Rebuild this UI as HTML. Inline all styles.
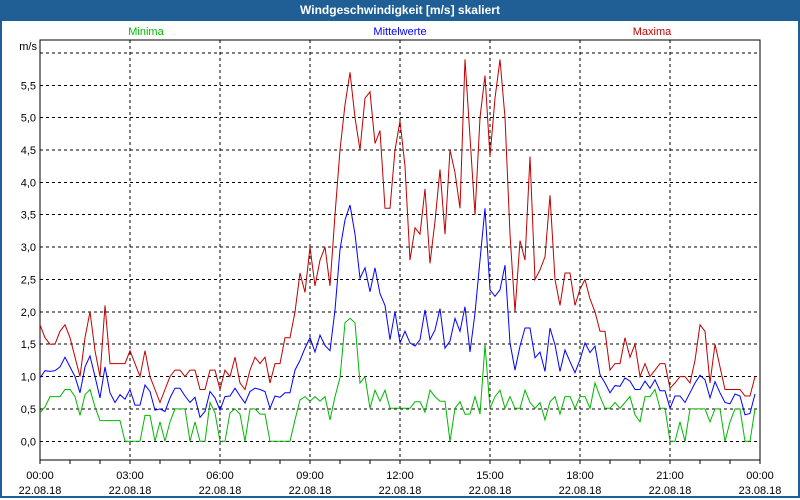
<!DOCTYPE html>
<html><head><meta charset="utf-8"><style>
body{margin:0;width:800px;height:500px;overflow:hidden;background:#fff;font-family:"Liberation Sans",sans-serif}
#frame{position:absolute;left:0;top:0;width:796px;height:496px;border:2px solid #1f5f96;border-top:none}
#title{position:absolute;left:0;top:0;width:800px;height:21px;background:#1f5f96;color:#fff;font-weight:bold;font-size:12px;line-height:21px;text-align:center}
</style></head><body>
<div id="frame"></div>
<div id="title">Windgeschwindigkeit [m/s] skaliert</div>
<svg id="chart" width="800" height="500" style="position:absolute;left:0;top:0"></svg>
<script>
const timeLabels=["00:00","03:00","06:00","09:00","12:00","15:00","18:00","21:00","00:00"];
const dateLabels=["22.08.18","22.08.18","22.08.18","22.08.18","22.08.18","22.08.18","22.08.18","22.08.18","23.08.18"];
const yTicks=[0,0.5,1,1.5,2,2.5,3,3.5,4,4.5,5,5.5];
const maxima=[1.8,1.6,1.5,1.5,1.7,1.8,1.6,1.3,1.0,1.6,2.0,1.4,1.0,2.1,1.2,1.2,1.2,1.2,1.4,1.2,1.0,1.4,1.0,0.8,0.6,0.8,1.0,1.1,1.1,1.0,1.1,1.1,0.8,0.8,1.1,1.1,
0.8,1.1,1.0,1.3,0.9,0.8,1.1,1.3,1.2,1.3,0.9,1.2,1.2,1.6,1.6,2.0,2.6,2.3,3.0,2.4,2.8,3.0,2.4,3.5,4.5,5.2,5.7,5.0,4.5,5.3,5.4,4.6,4.8,3.6,3.6,4.5,
4.95,4.25,2.8,3.3,3.2,3.9,2.75,3.4,4.2,3.2,4.5,4.15,3.6,5.9,4.7,3.5,5.0,5.65,4.4,5.3,5.9,5.0,3.2,2.0,3.1,2.8,4.4,2.5,2.65,2.85,3.8,2.5,2.1,2.6,2.6,2.1,
2.35,2.5,2.2,2.0,1.7,1.7,1.1,1.2,1.2,1.6,1.3,1.5,1.0,1.2,1.0,1.1,1.2,1.2,0.82,0.9,1.0,1.0,0.9,1.25,1.8,1.7,0.9,1.5,1.15,0.8,0.8,0.8,0.8,0.7,0.7,1.0];
const mittel=[0.98,1.09,1.08,1.09,1.15,1.3,1.15,1.0,0.75,1.15,1.32,1.0,0.67,1.15,0.75,0.6,0.72,0.65,0.8,0.56,0.56,0.87,0.77,0.48,0.5,0.46,0.67,0.82,0.82,0.7,0.6,0.68,0.37,0.46,0.77,0.67,
0.48,0.69,0.7,0.82,0.7,0.59,0.77,0.82,0.8,0.77,0.51,0.7,0.68,0.75,0.75,1.1,1.25,1.44,1.6,1.38,1.64,1.48,1.4,2.03,2.96,3.42,3.65,3.2,2.52,2.68,2.31,2.68,2.28,2.1,1.57,2.0,
1.52,1.7,1.52,1.47,1.57,2.03,1.57,1.72,2.05,1.44,1.55,1.9,1.7,2.08,1.38,1.98,2.8,3.6,2.34,2.24,2.34,2.72,1.52,1.1,1.47,1.75,1.75,1.29,1.38,1.08,1.75,1.49,1.08,1.41,1.23,1.06,
1.26,1.52,1.37,1.47,1.03,0.9,0.75,0.86,0.85,0.98,0.93,0.8,0.8,0.93,0.82,0.95,0.78,0.78,0.51,0.7,0.7,0.6,0.75,0.9,1.02,0.95,0.67,0.92,0.75,0.6,0.58,0.73,0.7,0.41,0.43,0.73];
const minima=[0.44,0.53,0.69,0.69,0.69,0.8,0.8,0.69,0.4,0.72,0.8,0.53,0.32,0.32,0.32,0.32,0.32,0,0,0,0,0.4,0.4,0,0.3,0,0.3,0.5,0.5,0.5,0,0.3,0,0,0.6,0.44,
0,0,0.44,0.5,0.42,0,0.5,0.5,0.42,0.42,0,0,0,0,0,0.33,0.64,0.69,0.62,0.69,0.62,0.69,0.33,0.69,0.98,1.83,1.9,1.83,0.9,1.0,0.51,0.79,0.62,0.79,0.51,0.51,
0.51,0.51,0.51,0.61,0.61,0.45,0.79,0.69,0.62,0.62,0,0.51,0.61,0.42,0.42,0.69,0.42,1.49,0.51,0.69,0.79,0.51,0.69,0.51,0.51,0.79,0.6,0.51,0.6,0.33,0.61,0.69,0.42,0.69,0.69,0.51,
0.69,0.69,0.51,0.9,0.69,0.51,0.51,0.6,0.51,0.6,0.69,0.41,0.3,0.69,0.69,0.8,0.51,0.51,0,0,0.3,0,0.5,0.5,0.5,0.5,0.3,0.5,0.5,0,0.3,0.5,0.5,0,0,0.5];

const svg=document.getElementById('chart');
const NS='http://www.w3.org/2000/svg';
const L=40,R=760,T=40,B=460;
const xScale=i=>L+i*5;           // 10-minute steps
const xHour=h=>L+h*30;
const yScale=v=>441.3-v*64.73;
function mk(tag,attrs,parent){const e=document.createElementNS(NS,tag);for(const k in attrs)e.setAttribute(k,attrs[k]);(parent||svg).appendChild(e);return e;}
function txt(x,y,s,anchor,color,size){const t=mk('text',{x:x,y:y,'text-anchor':anchor,fill:color,'font-size':size||11,'font-family':'"Liberation Sans",sans-serif'});t.textContent=s;return t;}

// horizontal grid + y labels
const gridTicks=yTicks.concat([6]);
gridTicks.forEach(v=>{
  const g=mk('line',{x1:L,x2:R,y1:yScale(v),y2:yScale(v),stroke:'#000','stroke-width':1,'stroke-dasharray':'3,3','shape-rendering':'crispEdges'});
  
  
});
yTicks.forEach(v=>{
  const t=txt(36,yScale(v)+4,v.toFixed(1).replace('.',','),'end','#000');
  
  
});
const unit=txt(37,50,'m/s','end','#000');



// vertical grid, ticks & x labels
timeLabels.forEach((s,k)=>{
  const x=xHour(k*3);
  if(k>0&&k<timeLabels.length-1){
    const g=mk('line',{x1:x,x2:x,y1:T,y2:B,stroke:'#000','stroke-width':1,'stroke-dasharray':'3,3','shape-rendering':'crispEdges'});
    
    
  }
  const t1=txt(x,479,s,'middle','#000');
  
  
  const t2=txt(x,494,dateLabels[k],'middle','#000');
  
  
});
for(let h=0;h<=24;h++){
  const tk=mk('line',{x1:xHour(h),x2:xHour(h),y1:B,y2:B+4,stroke:'#000','stroke-width':1,'shape-rendering':'crispEdges'});
  
  
}
// frame
const fr=mk('path',{d:`M${L},${B} L${L},${T} L${R},${T} L${R},${B} L${L},${B}`,fill:'none',stroke:'#000','stroke-width':1,'shape-rendering':'crispEdges'});



// series
function series(arr,color,name){
  const p=mk('polyline',{points:arr.map((v,i)=>xScale(i)+','+yScale(v).toFixed(1)).join(' '),fill:'none',stroke:color,'stroke-width':1});
  
  
}
series(maxima,'#c00000','maxima-line');
series(mittel,'#0000ff','mittelwerte-line');
series(minima,'#00b800','minima-line');

// legend
const l1=txt(146,35,'Minima','middle','#00b800');


const l2=txt(400,35,'Mittelwerte','middle','#0000ff');


const l3=txt(652,35,'Maxima','middle','#c00000');


</script>
</body></html>
